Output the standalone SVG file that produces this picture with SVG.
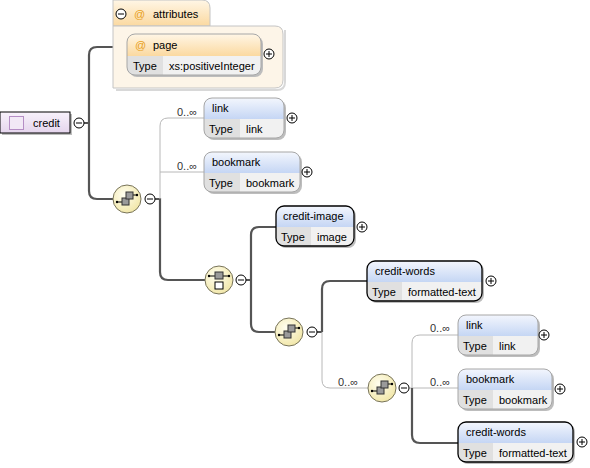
<svg xmlns="http://www.w3.org/2000/svg" width="590" height="468" viewBox="0 0 590 468">
<defs>
<linearGradient id="hdr" x1="0" y1="0" x2="0" y2="1"><stop offset="0" stop-color="#f3f6fd"/><stop offset="1" stop-color="#c5d6f4"/></linearGradient>
<linearGradient id="ohdr" x1="0" y1="0" x2="0" y2="1"><stop offset="0" stop-color="#fff6e6"/><stop offset="1" stop-color="#fbd9a0"/></linearGradient>
<linearGradient id="root" x1="0" y1="0" x2="0" y2="1"><stop offset="0" stop-color="#f8f2fb"/><stop offset="1" stop-color="#e5d5ed"/></linearGradient>
<radialGradient id="cmp" cx="0.4" cy="0.35" r="0.7"><stop offset="0" stop-color="#fffef0"/><stop offset="1" stop-color="#f1e6a6"/></radialGradient>
<g id="plus"><circle r="5" fill="#fff" stroke="#000"/><path d="M-3,0H3M0,-3V3" stroke="#000"/></g>
<g id="minus"><circle r="5" fill="#fff" stroke="#000"/><path d="M-3,0H3" stroke="#000"/></g>
<g id="seqicon">
<circle r="14" fill="url(#cmp)" stroke="#77735a" stroke-width="1"/>
<path d="M-10,3H-5M5,-4H10" stroke="#000" stroke-width="1"/>
<circle cx="-10" cy="3" r="1.2" fill="#000"/><circle cx="10" cy="-4" r="1.2" fill="#000"/>
<rect x="-5" y="-1" width="7" height="7" fill="#9a9a9a" stroke="#333"/>
<rect x="-1" y="-7" width="7" height="7" fill="#9a9a9a" stroke="#333"/>
</g>
<g id="choiceicon">
<circle r="14" fill="url(#cmp)" stroke="#77735a" stroke-width="1"/>
<path d="M-10,-4H10" stroke="#000"/>
<circle cx="-10" cy="-4" r="1.2" fill="#000"/><circle cx="10" cy="-4" r="1.2" fill="#000"/>
<rect x="-4" y="-8" width="8" height="7" fill="#9a9a9a" stroke="#333"/>
<rect x="-4" y="2" width="8" height="7" fill="#fff" stroke="#000"/>
</g>
</defs>
<style>
text{font-family:"Liberation Sans",Arial,sans-serif;font-size:11px;fill:#000}
.lbl{fill:#333}
.shadow{fill:#bdbdbd}
.body{fill:#f1f1f1}
.tcell{fill:#e0e0e0}
.opt{fill:none;stroke:#a6a6a6;stroke-width:1}
.req{fill:none;stroke:#000;stroke-width:1.3}
.thick{fill:none;stroke:#555;stroke-width:2.2}
.thin{fill:none;stroke:#b8b8b8;stroke-width:1}
.at{fill:#e8a020}
</style>
<rect width="590" height="468" fill="#fff"/>

<g id="connectors">
<path class="thick" d="M84,123H89M113,47H97Q89,47 89,55V191Q89,199 97,199H113"/>
<path class="thick" d="M155,199H160V272Q160,280 168,280H205"/>
<path class="thin" d="M204,118H168Q160,118 160,126V199M160,172H204"/>
<path class="thick" d="M246,280H251M276,227H259Q251,227 251,235V324Q251,332 259,332H275"/>
<path class="thick" d="M317,332H322M367,281H330Q322,281 322,289V332"/>
<path class="thin" d="M322,332V380Q322,388 330,388H368"/>
<path class="thin" d="M409,388H412M458,335H420Q412,335 412,343V388M412,388H458"/>
<path class="thick" d="M412,388V435Q412,443 420,443H458"/>
<text class="lbl" x="177" y="116">0..∞</text>
<text class="lbl" x="177" y="170">0..∞</text>
<text class="lbl" x="338" y="386">0..∞</text>
<text class="lbl" x="430" y="332">0..∞</text>
<text class="lbl" x="430" y="386">0..∞</text>
</g>

<g id="credit">
<rect x="2" y="114" width="70" height="21" class="shadow"/>
<rect x="0" y="112" width="70" height="21" fill="url(#root)" stroke="#000"/>
<rect x="9.5" y="116.5" width="14" height="13" fill="#f2e9f6" stroke="#b58ec5"/>
<text x="33" y="127">credit</text>
<use href="#minus" x="79" y="123"/>
</g>

<g id="attributes">
<path d="M113,26V0H202Q210,0 210,8V26Z" fill="url(#ohdr)" stroke="#c4c4c4"/>
<path d="M285,30V82Q285,90 277,90H116" fill="none" stroke="#d8d8d8" stroke-width="2"/>
<path d="M113,26H275Q283,26 283,34V80Q283,88 275,88H113Z" fill="#fdf5e8" stroke="#c4c4c4"/>
<use href="#minus" x="121" y="14"/>
<text class="at" x="134" y="18">@</text>
<text x="153" y="18">attributes</text>
<g id="page">
<rect x="129" y="36" width="134" height="41" rx="8" class="shadow"/>
<rect x="127" y="34" width="134" height="41" rx="8" class="body"/>
<path d="M127,56H163V75H135Q127,75 127,67Z" class="tcell"/>
<path d="M127,56V42Q127,34 135,34H253Q261,34 261,42V56Z" fill="url(#ohdr)"/>
<rect x="127" y="34" width="134" height="41" rx="8" class="opt"/>
<text class="at" x="135" y="49">@</text>
<text x="153" y="49">page</text>
<text x="133" y="70">Type</text>
<text x="169" y="70">xs:positiveInteger</text>
<use href="#plus" x="269" y="54"/>
</g>
</g>

<g id="seq1"><use href="#seqicon" x="127" y="199"/><use href="#minus" x="150" y="199"/></g>

<g id="link1" transform="translate(204,98)">
<rect x="2" y="2" width="80" height="40" rx="8" class="shadow"/>
<rect width="80" height="40" rx="8" class="body"/>
<path d="M0,21H36V40H8Q0,40 0,32Z" class="tcell"/>
<path d="M0,21V8Q0,0 8,0H72Q80,0 80,8V21Z" fill="url(#hdr)"/>
<rect width="80" height="40" rx="8" class="opt"/>
<text x="8" y="14">link</text><text x="5" y="35">Type</text><text x="42" y="35">link</text>
<use href="#plus" x="88" y="20"/>
</g>

<g id="bookmark1" transform="translate(204,152)">
<rect x="2" y="2" width="96" height="40" rx="8" class="shadow"/>
<rect width="96" height="40" rx="8" class="body"/>
<path d="M0,21H36V40H8Q0,40 0,32Z" class="tcell"/>
<path d="M0,21V8Q0,0 8,0H88Q96,0 96,8V21Z" fill="url(#hdr)"/>
<rect width="96" height="40" rx="8" class="opt"/>
<text x="8" y="14">bookmark</text><text x="5" y="35">Type</text><text x="42" y="35">bookmark</text>
<use href="#plus" x="103" y="20"/>
</g>

<g id="choice"><use href="#choiceicon" x="219" y="280"/><use href="#minus" x="241" y="280"/></g>

<g id="credit-image" transform="translate(276,206)">
<rect x="2" y="2" width="78" height="40" rx="8" class="shadow"/>
<rect width="78" height="40" rx="8" class="body"/>
<path d="M0,21H35V40H8Q0,40 0,32Z" class="tcell"/>
<path d="M0,21V8Q0,0 8,0H70Q78,0 78,8V21Z" fill="url(#hdr)"/>
<rect width="78" height="40" rx="8" class="req"/>
<text x="7" y="14">credit-image</text><text x="5" y="35">Type</text><text x="41" y="35">image</text>
<use href="#plus" x="86" y="21"/>
</g>

<g id="seq2"><use href="#seqicon" x="289" y="332"/><use href="#minus" x="312" y="332"/></g>

<g id="credit-words1" transform="translate(367,261)">
<rect x="2" y="2" width="115" height="40" rx="8" class="shadow"/>
<rect width="115" height="40" rx="8" class="body"/>
<path d="M0,21H35V40H8Q0,40 0,32Z" class="tcell"/>
<path d="M0,21V8Q0,0 8,0H107Q115,0 115,8V21Z" fill="url(#hdr)"/>
<rect width="115" height="40" rx="8" class="req"/>
<text x="8" y="14">credit-words</text><text x="5" y="35">Type</text><text x="41" y="35">formatted-text</text>
<use href="#plus" x="124" y="20"/>
</g>

<g id="seq3"><use href="#seqicon" x="382" y="388"/><use href="#minus" x="404" y="388"/></g>

<g id="link3" transform="translate(458,315)">
<rect x="2" y="2" width="80" height="40" rx="8" class="shadow"/>
<rect width="80" height="40" rx="8" class="body"/>
<path d="M0,21H35V40H8Q0,40 0,32Z" class="tcell"/>
<path d="M0,21V8Q0,0 8,0H72Q80,0 80,8V21Z" fill="url(#hdr)"/>
<rect width="80" height="40" rx="8" class="opt"/>
<text x="8" y="14">link</text><text x="5" y="35">Type</text><text x="41" y="35">link</text>
<use href="#plus" x="86" y="20"/>
</g>

<g id="bookmark3" transform="translate(458,369)">
<rect x="2" y="2" width="94" height="40" rx="8" class="shadow"/>
<rect width="94" height="40" rx="8" class="body"/>
<path d="M0,21H35V40H8Q0,40 0,32Z" class="tcell"/>
<path d="M0,21V8Q0,0 8,0H86Q94,0 94,8V21Z" fill="url(#hdr)"/>
<rect width="94" height="40" rx="8" class="opt"/>
<text x="8" y="14">bookmark</text><text x="5" y="35">Type</text><text x="41" y="35">bookmark</text>
<use href="#plus" x="102" y="20"/>
</g>

<g id="credit-words3" transform="translate(458,422)">
<rect x="2" y="2" width="115" height="40" rx="8" class="shadow"/>
<rect width="115" height="40" rx="8" class="body"/>
<path d="M0,21H35V40H8Q0,40 0,32Z" class="tcell"/>
<path d="M0,21V8Q0,0 8,0H107Q115,0 115,8V21Z" fill="url(#hdr)"/>
<rect width="115" height="40" rx="8" class="req"/>
<text x="8" y="14">credit-words</text><text x="5" y="35">Type</text><text x="41" y="35">formatted-text</text>
<use href="#plus" x="124" y="20"/>
</g>
</svg>
